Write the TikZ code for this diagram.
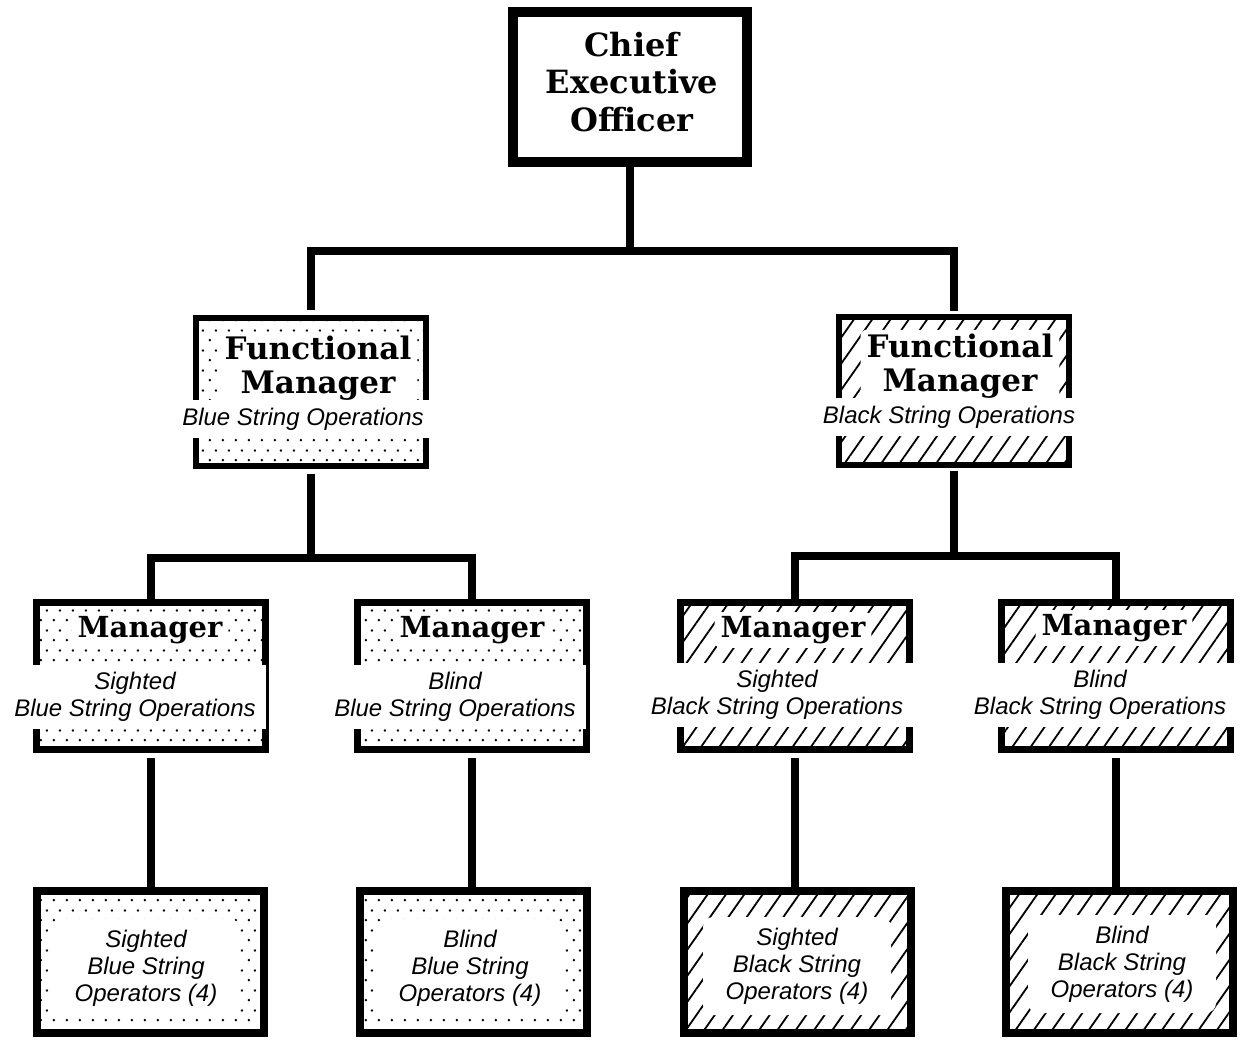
\documentclass[tikz,border=0pt]{standalone}
\usepackage{fontspec}
\newfontfamily\headfont{DejaVu Serif}
\newfontfamily\notefont{Liberation Sans}
\usetikzlibrary{patterns.meta}

\tikzdeclarepattern{
  name=sparsedots,
  type=uncolored,
  bounding box={(0pt,0pt) and (6.5pt,10pt)},
  tile size={(6.5pt,10pt)},
  code={
    \tikzset{x=1pt,y=1pt}
    \path[fill] (1,1) circle [radius=0.7];
    \path[fill] (4.25,6) circle [radius=0.7];
  }
}

\tikzset{
  ceobox/.style={draw,line width=5pt,minimum width=117pt,minimum height=75pt},
  fmbox/.style={draw,line width=3pt,minimum width=115pt,minimum height=74pt},
  mgrbox/.style={draw,line width=3.5pt,minimum width=114.5pt,minimum height=73.5pt},
  opbox/.style={draw,line width=4pt,minimum width=113.5pt,minimum height=71pt},
  bluefill/.style={pattern=sparsedots},
  blackfill/.style={pattern={Lines[angle=55,distance=7.5pt,line width=0.9pt]}},
  head/.style={font=\headfont\bfseries\fontsize{15.5}{17}\selectfont,align=center,fill=white,rounded corners=3pt,inner xsep=3pt,inner ysep=2pt},
  note/.style={font=\notefont\itshape\fontsize{12}{13.5}\selectfont,align=center,fill=white,inner xsep=5pt,inner ysep=4pt},
  opnote/.style={note,rounded corners=5pt,minimum width=94pt,minimum height=49pt},
  conn/.style={line width=4pt}
}

\begin{document}
\begin{tikzpicture}[x=0.5pt,y=-0.5pt]
\tikzstyle{every node}+=[inner sep=0pt]
\useasboundingbox (0,0) rectangle (1241,1042);
\node[ceobox] (ceo) at (630,87) {};
\node[fmbox,bluefill] (fmb) at (310.5,392.5) {};
\node[fmbox,blackfill] (fmk) at (954,391) {};
\node[mgrbox,bluefill] (mg1) at (150.5,676) {};
\node[mgrbox,bluefill] (mg2) at (471.5,676) {};
\node[mgrbox,blackfill] (mg3) at (795,676) {};
\node[mgrbox,blackfill] (mg4) at (1115.5,676) {};
\node[opbox,bluefill] (op1) at (150.5,962) {};
\node[opbox,bluefill] (op2) at (473,962) {};
\node[opbox,blackfill] (op3) at (797.5,962) {};
\node[opbox,blackfill] (op4) at (1119,962) {};
\coordinate (j0) at (ceo.south |- 0,251);
\coordinate (j1) at (fmb.south |- 0,558);
\coordinate (j2) at (fmk.south |- 0,556);
\draw[conn] (ceo.south) -- (j0);
\draw[conn,shorten <=2.5pt,shorten >=2.5pt] (fmb.north) |- (j0) -| (fmk.north);
\draw[conn,shorten <=2.5pt] (fmb.south) -- (j1);
\draw[conn] (mg1.north) |- (j1) -| (mg2.north);
\draw[conn,shorten <=2.5pt] (fmk.south) -- (j2);
\draw[conn] (mg3.north) |- (j2) -| (mg4.north);
\draw[conn,shorten <=2.5pt] (mg1.south) -- (mg1.south |- op1.north);
\draw[conn,shorten <=2.5pt] (mg2.south) -- (mg2.south |- op2.north);
\draw[conn,shorten <=2.5pt] (mg3.south) -- (mg3.south |- op3.north);
\draw[conn,shorten <=2.5pt] (mg4.south) -- (mg4.south |- op4.north);
\node[head,font=\headfont\bfseries\fontsize{16}{18.75}\selectfont] (ceot) at (632,82) {Chief\\Executive\\Officer};
\node[head] (fmbt) at (318,368) {Functional\\Manager};
\node[head] (fmkt) at (960,366) {Functional\\Manager};
\node[note] (fmbs) at (303,419) {Blue String Operations};
\node[note] (fmks) at (949,417) {Black String Operations};
\node[head,font=\headfont\bfseries\fontsize{14.5}{17}\selectfont] (mg1t) at (150,630) {Manager};
\node[head,font=\headfont\bfseries\fontsize{14.5}{17}\selectfont] (mg2t) at (472,630) {Manager};
\node[head,font=\headfont\bfseries\fontsize{14.5}{17}\selectfont] (mg3t) at (793,630) {Manager};
\node[head,font=\headfont\bfseries\fontsize{14.5}{17}\selectfont] (mg4t) at (1114,628) {Manager};
\node[note,inner ysep=3.5pt] (mg1s) at (135,697) {Sighted\\Blue String Operations};
\node[note,inner ysep=3.5pt] (mg2s) at (455,697) {Blind\\Blue String Operations};
\node[note,inner ysep=3.5pt] (mg3s) at (777,695) {Sighted\\Black String Operations};
\node[note,inner ysep=3.5pt] (mg4s) at (1100,695) {Blind\\Black String Operations};
\node[opnote] (op1t) at (146,968) {Sighted\\Blue String\\Operators (4)};
\node[opnote] (op2t) at (470,968) {Blind\\Blue String\\Operators (4)};
\node[opnote] (op3t) at (797,966) {Sighted\\Black String\\Operators (4)};
\node[opnote] (op4t) at (1122,964) {Blind\\Black String\\Operators (4)};
\end{tikzpicture}
\end{document}
